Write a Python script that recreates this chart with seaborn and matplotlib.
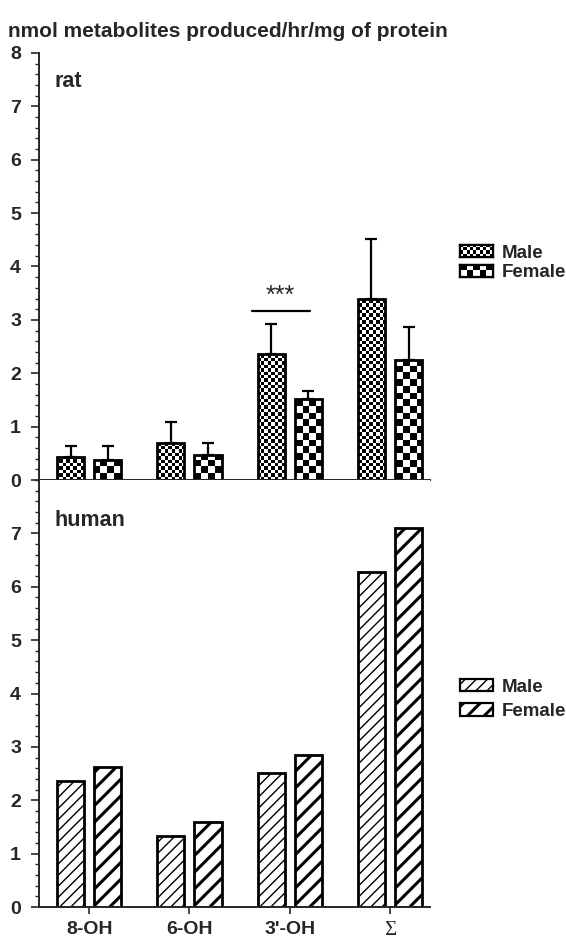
import numpy as np
import pandas as pd
import matplotlib
matplotlib.use('Agg')
import matplotlib.pyplot as plt
import seaborn as sns
from matplotlib.image import AxesImage
from matplotlib.patches import Patch
from matplotlib.ticker import MultipleLocator

# datos
metabolitos = ['8-OH', '6-OH', "3'-OH", 'Σ']
sexos = ['Male', 'Female']
rata_macho = [0.44, 0.69, 2.36, 3.40]
rata_macho_sd = [0.19, 0.40, 0.56, 1.11]
rata_hembra = [0.38, 0.46, 1.52, 2.25]
rata_hembra_sd = [0.25, 0.24, 0.14, 0.62]
humano_macho = [2.37, 1.33, 2.51, 6.27]
humano_hembra = [2.63, 1.59, 2.85, 7.11]

sns.set_style('ticks')
plt.rcParams['font.family'] = ['Liberation Sans', 'DejaVu Sans']
plt.rcParams['font.weight'] = 'bold'
plt.rcParams['hatch.linewidth'] = 1.2

df_rata = pd.DataFrame({'metabolito': metabolitos * 2,
                        'sexo': ['Male'] * 4 + ['Female'] * 4,
                        'valor': rata_macho + rata_hembra})
df_humano = pd.DataFrame({'metabolito': metabolitos * 2,
                          'sexo': ['Male'] * 4 + ['Female'] * 4,
                          'valor': humano_macho + humano_hembra})

fig = plt.figure(figsize=(5.66, 9.41), dpi=100)
ax1 = fig.add_axes([0.069, 0.4899, 0.691, 0.4538])
ax2 = fig.add_axes([0.069, 0.0361, 0.691, 0.4538])

for ax, df in [(ax1, df_rata), (ax2, df_humano)]:
    sns.barplot(data=df, x='metabolito', y='valor', hue='sexo', hue_order=sexos,
                palette=['white', 'white'], edgecolor='black', linewidth=2.0,
                errorbar=None, width=0.74, gap=0.27, legend=False, ax=ax)
    ax.set_xlim(-0.5, 3.4)
    ax.set_ylim(0, 8)
    ax.set_xlabel('')
    ax.set_ylabel('')
    for s in ['top', 'right']:
        ax.spines[s].set_visible(False)
    for s in ['left', 'bottom']:
        ax.spines[s].set_linewidth(1.4)
    ax.yaxis.set_minor_locator(MultipleLocator(0.2))
    ax.tick_params(axis='y', which='major', length=6, width=1.2, labelsize=14, pad=7)
    ax.tick_params(axis='y', which='minor', length=3, width=1)
    ax.tick_params(axis='x', length=5, width=1.2, labelsize=14, pad=5)


def tablero(ax, sq):
    bb = ax.get_window_extent()
    nx = int(round(bb.width / sq))
    ny = int(round(bb.height / sq))
    return np.indices((ny, nx)).sum(axis=0) % 2


# rata: cuadriculado fino (macho) y grueso (hembra)
tam = [3.4, 6.7]
for cont, sq in zip(ax1.containers, tam):
    board = tablero(ax1, sq)
    for bar in cont:
        bar.set_facecolor('none')
        im = AxesImage(ax1, cmap='gray', interpolation='nearest',
                       extent=(0, 1, 0, 1), transform=ax1.transAxes)
        im.set_data(board)
        im.set_zorder(bar.get_zorder() - 0.1)
        im.set_clip_path(bar)
        ax1.add_image(im)

sds = [rata_macho_sd, rata_hembra_sd]
for cont, sd in zip(ax1.containers, sds):
    xs = [b.get_x() + b.get_width() / 2 for b in cont]
    ys = [b.get_height() for b in cont]
    ax1.errorbar(xs, ys, yerr=[np.zeros(len(sd)), sd], fmt='none', ecolor='black',
                 elinewidth=1.6, capsize=4.5, capthick=1.6)

ax1.set_yticks(range(0, 9))
ax1.set_xticks(range(4))
ax1.set_xticklabels([])
ax1.text(0.04, 0.934, 'rat', transform=ax1.transAxes, fontsize=15.5,
         fontweight='bold', va='center')

# significancia 3'-OH
b_m = ax1.containers[0][2]
b_f = ax1.containers[1][2]
x0 = b_m.get_x() - 0.06
x1 = b_f.get_x() + b_f.get_width() * 0.55
ax1.plot([x0, x1], [3.16, 3.16], color='black', lw=1.6)
ax1.text((x0 + x1) / 2, 3.22, '***', ha='center', va='bottom', fontsize=18,
         fontweight='normal')

# humano: rayado
rayas = ['///', '//']
grosor = [1.0, 2.2]
for cont, h, lw in zip(ax2.containers, rayas, grosor):
    for bar in cont:
        bar.set_hatch(h)
        if hasattr(bar, 'set_hatch_linewidth'):
            bar.set_hatch_linewidth(lw)

ax2.set_yticks(range(0, 8))
ax2.set_xticks(range(4))
ax2.set_xticklabels(metabolitos)
for lab in ax2.get_xticklabels():
    lab.set_fontweight('bold')
    if lab.get_text() == 'Σ':
        lab.set_family(['Liberation Serif', 'DejaVu Serif'])
        lab.set_fontweight('normal')
        lab.set_fontsize(15)
ax2.text(0.04, 0.904, 'human', transform=ax2.transAxes, fontsize=15.5,
         fontweight='bold', va='center')

for ax in [ax1, ax2]:
    for lab in ax.get_yticklabels():
        lab.set_fontweight('bold')

# leyendas
h_rata = [Patch(facecolor='white', edgecolor='black', lw=1.6, label=s) for s in sexos]
leg1 = ax1.legend(handles=h_rata, loc='center left', bbox_to_anchor=(1.077, 0.508),
                  frameon=False, handlelength=1.75, handleheight=0.65, labelspacing=0.15,
                  handletextpad=0.45, borderpad=0, borderaxespad=0,
                  prop={'weight': 'bold', 'size': 13.5})
h_hum = []
for s, h, lw in zip(sexos, rayas, grosor):
    p = Patch(facecolor='white', edgecolor='black', lw=1.6, hatch=h, label=s)
    h_hum.append(p)
leg2 = ax2.legend(handles=h_hum, loc='center left', bbox_to_anchor=(1.077, 0.486),
                  frameon=False, handlelength=1.75, handleheight=0.65, labelspacing=0.4,
                  handletextpad=0.45, borderpad=0, borderaxespad=0,
                  prop={'weight': 'bold', 'size': 13.5})
for p, lw in zip(leg2.legend_handles, grosor):
    if hasattr(p, 'set_hatch_linewidth'):
        p.set_hatch_linewidth(lw)

fig.text(0.014, 0.966, 'nmol metabolites produced/hr/mg of protein', fontsize=15,
         fontweight='bold', va='center')

fig.canvas.draw()
rend = fig.canvas.get_renderer()
for p, sq in zip(leg1.legend_handles, tam):
    bb = p.get_window_extent(rend).transformed(fig.transFigure.inverted())
    lax = fig.add_axes([bb.x0, bb.y0, bb.width, bb.height])
    nx = max(2, int(round(bb.width * 566 / sq)))
    ny = max(2, int(round(bb.height * 941 / sq)))
    lax.imshow(np.indices((ny, nx)).sum(axis=0) % 2, cmap='gray',
               interpolation='nearest', aspect='auto')
    lax.set_xticks([])
    lax.set_yticks([])
    for s in lax.spines.values():
        s.set_linewidth(1.6)
        s.set_color('black')

fig.savefig('out.png', dpi=100)
